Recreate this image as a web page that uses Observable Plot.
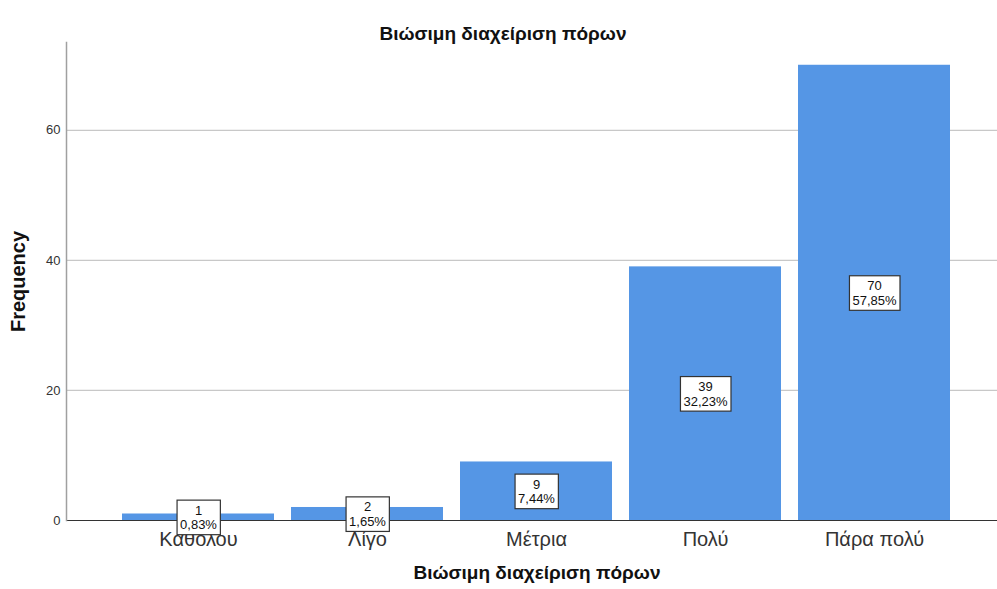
<!DOCTYPE html>
<html>
<head>
<meta charset="utf-8">
<script src="https://cdn.jsdelivr.net/npm/d3@7"></script>
<script src="https://cdn.jsdelivr.net/npm/@observablehq/plot@0.6"></script>
<style>
  body { margin: 0; background: #fff; }
  svg { font-family: "Liberation Sans", Arial, sans-serif; }
</style>
</head>
<body>
<div id="chart"></div>
<script>
const categories = ["Καθολου", "Λίγο", "Μέτρια", "Πολύ", "Πάρα πολύ"];
const counts = [1, 2, 9, 39, 70];
const percents = [0.83, 1.65, 7.44, 32.23, 57.85];
const yTicks = [0, 20, 40, 60];
const title = "Βιώσιμη διαχείριση πόρων";
const xLabel = "Βιώσιμη διαχείριση πόρων";
const yLabel = "Frequency";

const data = categories.map((c, i) => ({
  category: c,
  count: counts[i],
  label: counts[i] + "\n" + percents[i].toFixed(2).replace(".", ",") + "%"
}));

const chart = Plot.plot({
  width: 997,
  height: 589,
  marginTop: 42,
  marginBottom: 69,
  marginLeft: 66,
  marginRight: 0,
  style: { fontFamily: "'Liberation Sans', Arial, sans-serif", background: "#fff" },
  x: { type: "band", domain: categories, range: [122, 951], paddingInner: 0.1, paddingOuter: 0 },
  y: { domain: [0, 73.5] },
  marks: [
    Plot.ruleY(yTicks.filter(d => d > 0), { stroke: "#c8c8c8", strokeWidth: 1.3 }),
    Plot.barY(data, { x: "category", y: "count", fill: "#5596e5" }),
    Plot.ruleY([0], { stroke: "#333", strokeWidth: 1.2 }),
    Plot.frame({ anchor: "left", stroke: "#a0a0a0", strokeWidth: 1.5 }),
    Plot.axisY({ ticks: yTicks, tickSize: 0, tickPadding: 6, label: null, fontSize: 13, color: "#333" }),
    Plot.axisX({ tickSize: 0, tickPadding: 11, label: null, fontSize: 20, color: "#333" }),
    Plot.text(data, {
      x: "category", y: d => d.count / 2, text: "label",
      fontSize: 13, lineHeight: 1.12, fill: "#111", className: "boxlabel"
    }),
    Plot.text([title], { frameAnchor: "top", dy: -16, dx: -29, fontSize: 19, fontWeight: "bold", fill: "#111" }),
    Plot.text([xLabel], { frameAnchor: "bottom", dy: 58, dx: 5, fontSize: 19, fontWeight: "bold", fill: "#111" }),
    Plot.text([yLabel], { frameAnchor: "left", textAnchor: "middle", dx: -48, rotate: -90, fontSize: 20, fontWeight: "bold", fill: "#111" })
  ]
});

document.getElementById("chart").appendChild(chart);

// White boxes with a dark border behind the value labels
d3.select(chart).selectAll("g.boxlabel text").each(function () {
  const bb = this.getBBox();
  const padX = 3, padY = 2.5;
  d3.select(this.parentNode).insert("rect", () => this)
    .attr("x", bb.x - padX)
    .attr("y", bb.y - padY)
    .attr("width", bb.width + 2 * padX)
    .attr("height", bb.height + 2 * padY)
    .attr("fill", "#fff")
    .attr("stroke", "#333")
    .attr("stroke-width", 1.2)
    .attr("transform", this.getAttribute("transform"));
});
</script>
</body>
</html>
